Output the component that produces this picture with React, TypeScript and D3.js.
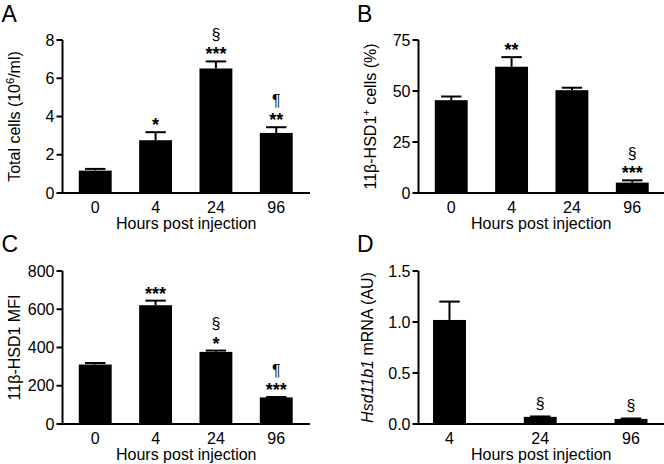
import React from 'react';
import * as d3 from 'd3';

// ---------- data ----------
const hoursABC = ['0', '4', '24', '96'];
const hoursD = ['4', '24', '96'];

const totalCells = [1.17, 2.76, 6.51, 3.14];
const totalCellsErr = [0.09, 0.42, 0.37, 0.3];
const totalCellsMarks = [[], ['*'], ['§', '***'], ['¶', '**']];
const totalCellsTicks = [0, 2, 4, 6, 8];

const hsdPositive = [45.5, 61.9, 50.4, 5.1];
const hsdPositiveErr = [1.8, 4.7, 1.2, 1.1];
const hsdPositiveMarks = [[], ['**'], [], ['§', '***']];
const hsdPositiveTicks = [0, 25, 50, 75];

const hsdMfi = [311, 621, 377, 139];
const hsdMfiErr = [8, 24, 7, 2];
const hsdMfiMarks = [[], ['***'], ['§', '*'], ['¶', '***']];
const hsdMfiTicks = [0, 200, 400, 600, 800];

const mrna = [1.02, 0.07, 0.05];
const mrnaErr = [0.18, 0.004, 0.004];
const mrnaMarks = [[], ['§'], ['§']];
const mrnaTicks = [0, 0.5, 1.0, 1.5];

const xTitle = 'Hours post injection';

const FONT = "'Liberation Sans', Arial, Helvetica, sans-serif";

type PanelCfg = {
  letter: string;
  letterX: number;
  letterY: number;
  axisX: number;
  top: number;
  bottom: number;
  xEnd: number;
  bandRange: [number, number];
  paddingInner: number;
  paddingOuter: number;
  cats: string[];
  values: number[];
  errors: number[];
  marks: string[][];
  ticks: number[];
  tickFmt: (v: number) => string;
  labelX: number;
  label: React.ReactNode;
};

const isStar = (s: string) => s.startsWith('*');

function Panel({ c }: { c: PanelCfg }) {
  const max = c.ticks[c.ticks.length - 1];
  const y = d3.scaleLinear().domain([0, max]).range([c.bottom, c.top]);
  const x = d3
    .scaleBand<string>()
    .domain(c.cats)
    .range(c.bandRange)
    .paddingInner(c.paddingInner)
    .paddingOuter(c.paddingOuter);
  const bw = x.bandwidth();
  const capW = bw * 0.62;
  const midX = (c.axisX + c.xEnd) / 2;
  const midY = (c.top + c.bottom) / 2;
  return (
    <g>
      <text x={c.letterX} y={c.letterY} fontSize={23} fontFamily={FONT}>
        {c.letter}
      </text>
      {/* bars */}
      {c.cats.map((cat, i) => {
        const x0 = x(cat)!;
        const cx = x0 + bw / 2;
        const yTop = y(c.values[i]);
        const yErr = y(c.values[i] + c.errors[i]);
        const lines = c.marks[i];
        return (
          <g key={cat}>
            <rect x={x0} y={yTop} width={bw} height={c.bottom - yTop} fill="#000" />
            <line x1={cx} x2={cx} y1={yTop} y2={yErr} stroke="#000" strokeWidth={2} />
            <line x1={cx - capW / 2} x2={cx + capW / 2} y1={yErr} y2={yErr} stroke="#000" strokeWidth={2} />
            {lines.map((s, j) => {
              const center = yErr - 11.5 - 14 * (lines.length - 1 - j);
              const star = isStar(s);
              const fs = star ? 18 : 16;
              const off = star ? 0.585 : 0.26;
              return (
                <text
                  key={j}
                  x={cx}
                  y={center + off * fs}
                  textAnchor="middle"
                  fontSize={fs}
                  fontWeight={star ? 'bold' : 'normal'}
                  fontFamily={FONT}
                >
                  {s}
                </text>
              );
            })}
          </g>
        );
      })}
      {/* y axis */}
      <line x1={c.axisX} x2={c.axisX} y1={c.top} y2={c.bottom} stroke="#000" strokeWidth={2} />
      {c.ticks.map((t) => (
        <g key={t}>
          <line x1={c.axisX - 6} x2={c.axisX} y1={y(t)} y2={y(t)} stroke="#000" strokeWidth={2} />
          <text
            x={c.axisX - 8}
            y={y(t) + 5.7}
            textAnchor="end"
            fontSize={16}
            fontFamily={FONT}
          >
            {c.tickFmt(t)}
          </text>
        </g>
      ))}
      {/* x axis */}
      <line x1={c.axisX - 1} x2={c.xEnd} y1={c.bottom} y2={c.bottom} stroke="#000" strokeWidth={2} />
      {c.cats.map((cat) => (
        <text
          key={cat}
          x={x(cat)! + bw / 2}
          y={c.bottom + 20}
          textAnchor="middle"
          fontSize={16}
          fontFamily={FONT}
        >
          {cat}
        </text>
      ))}
      <text x={midX} y={c.bottom + 35.5} textAnchor="middle" fontSize={16} fontFamily={FONT}>
        {xTitle}
      </text>
      <text
        transform={`translate(${c.labelX},${midY}) rotate(-90)`}
        textAnchor="middle"
        fontSize={16}
        fontFamily={FONT}
      >
        {c.label}
      </text>
    </g>
  );
}

export default function App() {
  const fmtInt = (v: number) => d3.format('d')(v);
  const fmt1 = (v: number) => d3.format('.1f')(v);
  const panels: PanelCfg[] = [
    {
      letter: 'A', letterX: 1.5, letterY: 21.5,
      axisX: 62.5, top: 40, bottom: 193, xEnd: 310,
      bandRange: [62.5, 309], paddingInner: 0.455, paddingOuter: 0.27,
      cats: hoursABC, values: totalCells, errors: totalCellsErr, marks: totalCellsMarks,
      ticks: totalCellsTicks, tickFmt: fmtInt, labelX: 20,
      label: (
        <>
          Total cells (10<tspan baselineShift="super" fontSize={11}>6</tspan>/ml)
        </>
      ),
    },
    {
      letter: 'B', letterX: 357, letterY: 21.5,
      axisX: 418.5, top: 40, bottom: 193, xEnd: 664,
      bandRange: [418.5, 665], paddingInner: 0.455, paddingOuter: 0.27,
      cats: hoursABC, values: hsdPositive, errors: hsdPositiveErr, marks: hsdPositiveMarks,
      ticks: hsdPositiveTicks, tickFmt: fmtInt, labelX: 376,
      label: (
        <>
          11β-HSD1<tspan baselineShift="super" fontSize={11}>+</tspan> cells (%)
        </>
      ),
    },
    {
      letter: 'C', letterX: 1.5, letterY: 252,
      axisX: 62.5, top: 271, bottom: 424, xEnd: 310,
      bandRange: [62.5, 309], paddingInner: 0.455, paddingOuter: 0.27,
      cats: hoursABC, values: hsdMfi, errors: hsdMfiErr, marks: hsdMfiMarks,
      ticks: hsdMfiTicks, tickFmt: fmtInt, labelX: 20,
      label: <>11β-HSD1 MFI</>,
    },
    {
      letter: 'D', letterX: 357, letterY: 252,
      axisX: 418.5, top: 271, bottom: 424, xEnd: 664,
      bandRange: [418.5, 662], paddingInner: 0.637, paddingOuter: 0.16,
      cats: hoursD, values: mrna, errors: mrnaErr, marks: mrnaMarks,
      ticks: mrnaTicks, tickFmt: fmt1, labelX: 373,
      label: (
        <>
          <tspan fontStyle="italic">Hsd11b1</tspan> mRNA (AU)
        </>
      ),
    },
  ];
  return (
    <svg
      width={664}
      height={464}
      viewBox="0 0 664 464"
      style={{ position: 'fixed', left: 0, top: 0, background: '#fff' }}
    >
      <rect width={664} height={464} fill="#fff" />
      {panels.map((p) => (
        <Panel key={p.letter} c={p} />
      ))}
    </svg>
  );
}
